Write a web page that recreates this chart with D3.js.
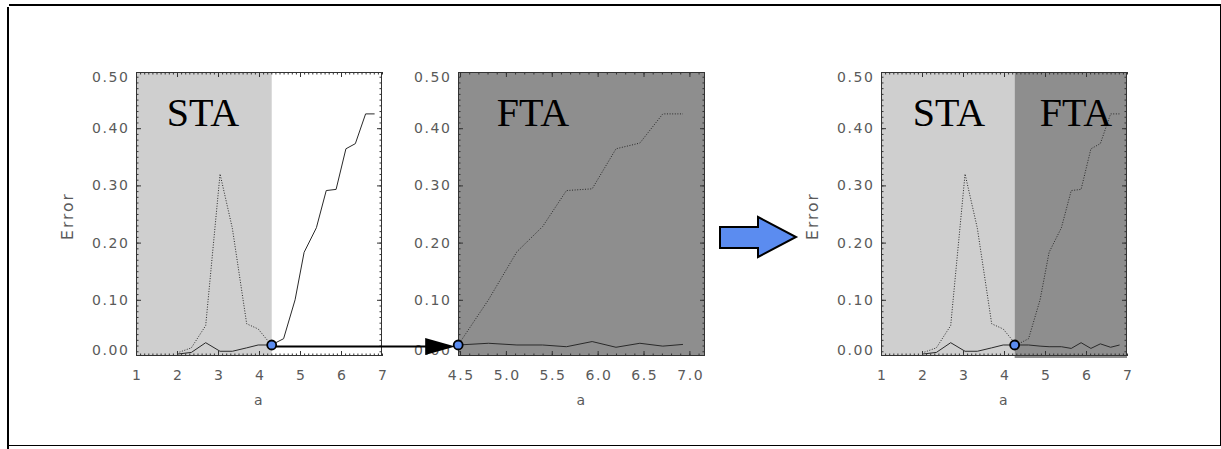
<!DOCTYPE html>
<html><head><meta charset="utf-8">
<script src="https://cdn.jsdelivr.net/npm/d3@7"></script>
<style>
html,body{margin:0;padding:0;background:#fff;}
svg{display:block;}
.tl{font-family:"DejaVu Sans",sans-serif;font-size:14px;fill:#5a5a5a;letter-spacing:1.6px;}
.yt{font-size:15.5px;letter-spacing:2px;}
.big{font-family:"Liberation Serif","Times New Roman",serif;font-size:40px;fill:#000;}
</style>
</head><body>
<script>
// ---- data ----
const aGrid  = [2.00, 2.35, 2.70, 3.05, 3.35, 3.70, 3.98, 4.30, 4.60, 4.88, 5.10, 5.40, 5.64, 5.88, 6.12, 6.35, 6.60, 6.82];
const staErr = [0.005,0.008,0.025,0.010,0.010,0.016,0.021,0.021,0.032,0.100,0.183,0.226,0.291,0.293,0.364,0.373,0.425,0.425];
const ftaErr = [0.007,0.016,0.055,0.320,0.225,0.058,0.049,0.021,0.021,0.019,0.018,0.018,0.015,0.025,0.015,0.023,0.017,0.021];
// middle (FTA-only) panel, read on its own axis
const aZoom   = [4.48, 4.81, 5.12, 5.40, 5.66, 5.94, 6.20, 6.46, 6.71, 6.93];
const staZoom = [0.021,0.100,0.184,0.228,0.291,0.294,0.364,0.374,0.425,0.425];
const ftaZoom = [0.021,0.024,0.021,0.021,0.018,0.027,0.017,0.024,0.019,0.022];
const switchA = 4.30;          // boundary between STA and FTA regions
const yTicks  = [0.00, 0.10, 0.20, 0.30, 0.40, 0.50];
const xTicksWide = [1, 2, 3, 4, 5, 6, 7];
const xTicksZoom = [4.5, 5.0, 5.5, 6.0, 6.5, 7.0];
const labels = {STA: "STA", FTA: "FTA", y: "Error", x: "a"};

const W = 1221, H = 449;
const lightGray = "#cfcfcf", darkGray = "#8e8e8e", blue = "#5b8cf0", lineCol = "#2a2a2a";

const svg = d3.select("body").append("svg").attr("width", W).attr("height", H);

// outer border
svg.append("line").attr("x1", 9).attr("x2", W).attr("y1", 5).attr("y2", 5).attr("stroke", "#000").attr("stroke-width", 2);
svg.append("line").attr("x1", 8).attr("x2", 8).attr("y1", 7).attr("y2", H).attr("stroke", "#000").attr("stroke-width", 2);
svg.append("line").attr("x1", 8).attr("x2", 1220.5).attr("y1", 445.5).attr("y2", 445.5).attr("stroke", "#000").attr("stroke-width", 1);
svg.append("line").attr("x1", 1220.5).attr("x2", 1220.5).attr("y1", 5).attr("y2", 446).attr("stroke", "#000").attr("stroke-width", 1);

const yTop = 72, yBot = 356;
const y = d3.scaleLinear().domain([0, 0.5]).range([357, 71]);

function makeLine(x, xs, ys) {
  return d3.line().x((d, i) => x(xs[i])).y((d) => y(d))(ys);
}

function drawPanel(g, x, x0, x1, opts) {
  (opts.regions || []).forEach(r => {
    g.append("rect").attr("x", x(r.from)).attr("width", x(r.to) - x(r.from))
      .attr("y", r.y0 !== undefined ? r.y0 : yTop)
      .attr("height", (r.y1 !== undefined ? r.y1 : yBot) - (r.y0 !== undefined ? r.y0 : yTop))
      .attr("fill", r.color);
  });
  opts.series.forEach(s => {
    g.append("path").attr("d", makeLine(x, s.xs, s.ys)).attr("fill", "none")
      .attr("stroke", lineCol).attr("stroke-width", 1)
      .attr("stroke-dasharray", s.dotted ? "1,1.6" : null)
      .attr("stroke-linejoin", "round");
  });
  g.append("rect").attr("x", x0 + 0.5).attr("y", yTop + 0.5).attr("width", x1 - x0 - 1).attr("height", yBot - yTop - 1)
    .attr("fill", "none").attr("stroke", "#333").attr("stroke-width", 1);

  const xDom = x.domain();
  const minorX = d3.range(Math.ceil(xDom[0] / opts.xMinor - 1e-9), Math.floor(xDom[1] / opts.xMinor + 1e-9) + 1).map(k => +(k * opts.xMinor).toFixed(4));
  const minorY = d3.range(0, 51).map(k => k / 100).filter(v => y(v) > yTop && y(v) < yBot);
  const tickStyle = sel => { sel.select(".domain").remove(); sel.selectAll("line").attr("stroke", "#333"); };

  g.append("g").attr("transform", `translate(0,${yBot})`).call(d3.axisBottom(x).tickValues(minorX).tickSize(-2.5).tickFormat("")).call(tickStyle);
  g.append("g").attr("transform", `translate(0,${yTop})`).call(d3.axisTop(x).tickValues(minorX).tickSize(-2.5).tickFormat("")).call(tickStyle);
  g.append("g").attr("transform", `translate(${x0},0)`).call(d3.axisLeft(y).tickValues(minorY).tickSize(-2.5).tickFormat("")).call(tickStyle);
  g.append("g").attr("transform", `translate(${x1},0)`).call(d3.axisRight(y).tickValues(minorY).tickSize(-2.5).tickFormat("")).call(tickStyle);
  const majX = opts.xTicks.filter(v => x(v) > x0 + 1 && x(v) < x1 - 1);
  const majY = yTicks.filter(v => y(v) > yTop && y(v) < yBot);
  g.append("g").attr("transform", `translate(0,${yTop})`).call(d3.axisTop(x).tickValues(majX).tickSize(-5).tickFormat("")).call(tickStyle);
  g.append("g").attr("transform", `translate(${x1},0)`).call(d3.axisRight(y).tickValues(majY).tickSize(-5).tickFormat("")).call(tickStyle);

  const bx = g.append("g").attr("transform", `translate(0,${yBot})`)
    .call(d3.axisBottom(x).tickValues(opts.xTicks).tickSize(-5).tickPadding(14).tickFormat(opts.xFmt))
    .call(tickStyle);
  bx.selectAll(".tick").filter(v => !(x(v) > x0 + 1 && x(v) < x1 - 1)).select("line").remove();
  bx.selectAll("text").attr("class", "tl").attr("fill", null).attr("dx", "0.8px");

  const ly = g.append("g").attr("transform", `translate(${x0},0)`)
    .call(d3.axisLeft(y).tickValues(yTicks).tickSize(-5).tickPadding(6.5).tickFormat(d3.format(".2f")))
    .call(tickStyle);
  ly.selectAll(".tick").filter(v => !(y(v) > yTop && y(v) < yBot)).select("line").remove();
  ly.selectAll("text").attr("class", "tl").attr("fill", null)
    .attr("y", v => Math.min(Math.max(y(v), yTop + 5), yBot - 5.5) - y(v));

  g.append("text").attr("class", "tl").attr("text-anchor", "middle")
    .attr("x", (x0 + x1) / 2).attr("y", 405).text(labels.x);
  if (opts.yTitle) {
    g.append("text").attr("class", "tl yt").attr("text-anchor", "middle")
      .attr("transform", `translate(${x0 - 63},216) rotate(-90)`).text(labels.y);
  }
  (opts.words || []).forEach(w => {
    g.append("text").attr("class", "big").attr("text-anchor", "middle").attr("x", w.x).attr("y", 126).text(w.t);
  });
}

// ---- panel 1 : STA ----
const x1s = d3.scaleLinear().domain([1, 7]).range([136, 382]);
const nSTA = aGrid.filter(a => a <= switchA).length;
const g1 = svg.append("g");
drawPanel(g1, x1s, 136, 382, {
  regions: [{from: 1, to: switchA + 0.01, color: lightGray}],
  series: [
    {xs: aGrid.slice(0, nSTA), ys: ftaErr.slice(0, nSTA), dotted: true},
    {xs: aGrid, ys: staErr, dotted: false}
  ],
  xTicks: xTicksWide, xMinor: 0.1, xFmt: d3.format("d"), yTitle: true,
  words: [{t: labels.STA, x: 203}]
});

// ---- panel 2 : FTA ----
const x2s = d3.scaleLinear().domain([4.478, 7.17]).range([458, 705]);
const g2 = svg.append("g");
drawPanel(g2, x2s, 458, 705, {
  regions: [{from: 4.478, to: 7.17, color: darkGray}],
  series: [
    {xs: aZoom, ys: staZoom, dotted: true},
    {xs: aZoom, ys: ftaZoom, dotted: false}
  ],
  xTicks: xTicksZoom, xMinor: 0.1, xFmt: d3.format(".1f"), yTitle: false,
  words: [{t: labels.FTA, x: 533}]
});

// ---- panel 3 : combined ----
const x3s = d3.scaleLinear().domain([1, 7]).range([881, 1127]);
const g3 = svg.append("g");
const iS = nSTA - 1;
drawPanel(g3, x3s, 881, 1127, {
  regions: [{from: 1, to: switchA - 0.04, color: lightGray},
            {from: switchA - 0.04, to: 7, color: darkGray, y0: 73, y1: 358}],
  series: [
    {xs: aGrid.slice(0, nSTA), ys: ftaErr.slice(0, nSTA), dotted: true},
    {xs: aGrid.slice(iS), ys: staErr.slice(iS), dotted: true},
    {xs: aGrid.slice(0, nSTA), ys: staErr.slice(0, nSTA), dotted: false},
    {xs: aGrid.slice(iS), ys: ftaErr.slice(iS), dotted: false}
  ],
  xTicks: xTicksWide, xMinor: 0.1, xFmt: d3.format("d"), yTitle: true,
  words: [{t: labels.STA, x: 949}, {t: labels.FTA, x: 1076}]
});

// ---- connectors ----
const p1 = [x1s(switchA + 0.01), y(staErr[iS])];
const p2 = [x2s(aZoom[0]), y(ftaZoom[0])];
svg.append("line").attr("x1", p1[0]).attr("y1", p1[1] + 1.5).attr("x2", p2[0] - 28).attr("y2", p1[1] + 1.5)
  .attr("stroke", "#000").attr("stroke-width", 2);
svg.append("path").attr("d", `M${p2[0] - 33},${p1[1] - 7}L${p2[0] - 3},${p1[1] + 1.5}L${p2[0] - 33},${p1[1] + 10}Z`).attr("fill", "#000");

[[p1[0], p1[1]], p2, [x3s(switchA - 0.04), y(staErr[iS])]].forEach(p => {
  svg.append("circle").attr("cx", p[0]).attr("cy", p[1]).attr("r", 4.5)
    .attr("fill", blue).attr("stroke", "#000").attr("stroke-width", 1.8);
});

// big blue arrow
svg.append("path").attr("d", "M720,227L758,227L758,217L796,237L758,257L758,248L720,248Z")
  .attr("fill", blue).attr("stroke", "#000").attr("stroke-width", 2).attr("stroke-linejoin", "miter");
</script>
</body></html>
